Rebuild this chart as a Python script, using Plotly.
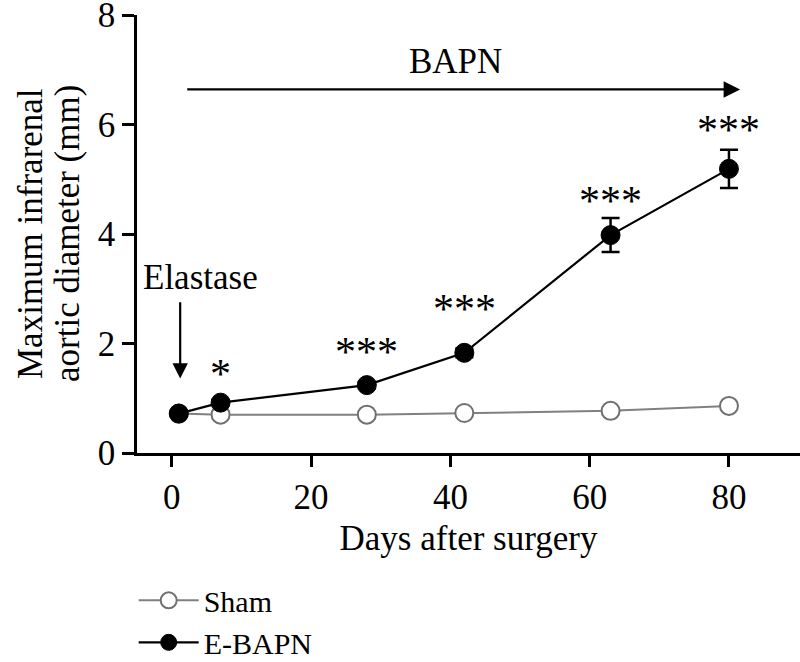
import plotly.graph_objects as go

# Data
days = [1, 7, 28, 42, 63, 80]
sham_mean = [0.72, 0.70, 0.70, 0.73, 0.77, 0.86]
sham_err = [0.03, 0.03, 0.03, 0.03, 0.04, 0.05]
ebapn_mean = [0.72, 0.92, 1.24, 1.83, 3.98, 5.19]
ebapn_err = [0.04, 0.05, 0.06, 0.08, 0.31, 0.35]
sig_days = [7, 28, 42, 63, 80]
sig_labels = ["*", "***", "***", "***", "***"]
x_ticks = [0, 20, 40, 60, 80]
y_ticks = [0, 2, 4, 6, 8]

FONT = "Liberation Serif"
FS = 35

fig = go.Figure()
fig.add_trace(go.Scatter(
    x=days, y=sham_mean, name="Sham", mode="lines+markers",
    error_y=dict(type="data", array=sham_err, color="#777777", thickness=2, width=8),
    line=dict(color="#808080", width=2),
    marker=dict(symbol="circle", size=18, color="white", line=dict(color="#707070", width=2)),
))
fig.add_trace(go.Scatter(
    x=days, y=ebapn_mean, name="E-BAPN", mode="lines+markers",
    error_y=dict(type="data", array=ebapn_err, color="black", thickness=2.5, width=9),
    line=dict(color="black", width=2.2),
    marker=dict(symbol="circle", size=19, color="black", line=dict(color="black", width=1)),
))

# significance stars: placed above mean + error
offsets = [0.62, 0.69, 0.86, 0.46, 0.50]
for d, lab, off in zip(sig_days, sig_labels, offsets):
    i = days.index(d)
    fig.add_annotation(x=d, y=ebapn_mean[i] + ebapn_err[i] + off, text=lab,
                       showarrow=False, xref="x", yref="y",
                       font=dict(family=FONT, size=42, color="black"),
                       yanchor="middle", yshift=-8)

# BAPN arrow
fig.add_annotation(x=81.6, y=6.64, ax=2.0, ay=6.64, xref="x", yref="y",
                   axref="x", ayref="y", text="", showarrow=True,
                   arrowhead=2, arrowsize=1.5, arrowwidth=2.2, arrowcolor="black")
fig.add_annotation(x=40.7, y=7.15, text="BAPN", showarrow=False,
                   font=dict(family=FONT, size=FS, color="black"))

# Elastase arrow
fig.add_annotation(x=1.2, y=1.36, ax=1.2, ay=2.78, xref="x", yref="y",
                   axref="x", ayref="y", text="", showarrow=True,
                   arrowhead=2, arrowsize=1.4, arrowwidth=2.2, arrowcolor="black")
fig.add_annotation(x=4.1, y=3.2, text="Elastase", showarrow=False,
                   font=dict(family=FONT, size=FS, color="black"))

# Y-axis title (two lines)
fig.add_annotation(x=0, y=0.5, xref="paper", yref="paper", xshift=-107,
                   xanchor="center", yanchor="middle",
                   text="Maximum infrarenal", textangle=-90, showarrow=False,
                   font=dict(family=FONT, size=FS, color="black"))
fig.add_annotation(x=0, y=0.5, xref="paper", yref="paper", xshift=-70,
                   xanchor="center", yanchor="middle",
                   text="aortic diameter (mm)", textangle=-90, showarrow=False,
                   font=dict(family=FONT, size=FS, color="black"))

fig.update_layout(
    width=800, height=662,
    margin=dict(l=137, r=0, t=15, b=209, autoexpand=False),
    paper_bgcolor="white", plot_bgcolor="white",
    font=dict(family=FONT, size=FS, color="black"),
    showlegend=True,
    legend=dict(x=-0.005, y=-0.277, xanchor="left", yanchor="top",
                font=dict(family=FONT, size=30, color="black"),
                tracegroupgap=0, itemwidth=60, bgcolor="rgba(0,0,0,0)"),
    xaxis=dict(range=[-5, 90.2], tickvals=x_ticks, ticktext=[str(v) for v in x_ticks],
               showgrid=False, zeroline=False, showline=True, linecolor="black",
               linewidth=2.5, ticks="outside", ticklen=11, tickwidth=2.5, tickcolor="black",
               ticklabeloverflow="allow",
               title=dict(text="Days after surgery", font=dict(family=FONT, size=FS), standoff=10),
               tickfont=dict(family=FONT, size=FS)),
    yaxis=dict(range=[0, 8], tickvals=y_ticks, ticktext=[str(v) for v in y_ticks],
               showgrid=False, zeroline=False, showline=True, linecolor="black",
               linewidth=2.5, ticks="outside", ticklen=12, tickwidth=2.5, tickcolor="black",
               ticklabeloverflow="allow",
               tickfont=dict(family=FONT, size=FS)),
)

fig.write_html("out.html", config={"displayModeBar": False},
               post_script="document.body.style.margin='0';document.body.style.overflow='hidden';")
